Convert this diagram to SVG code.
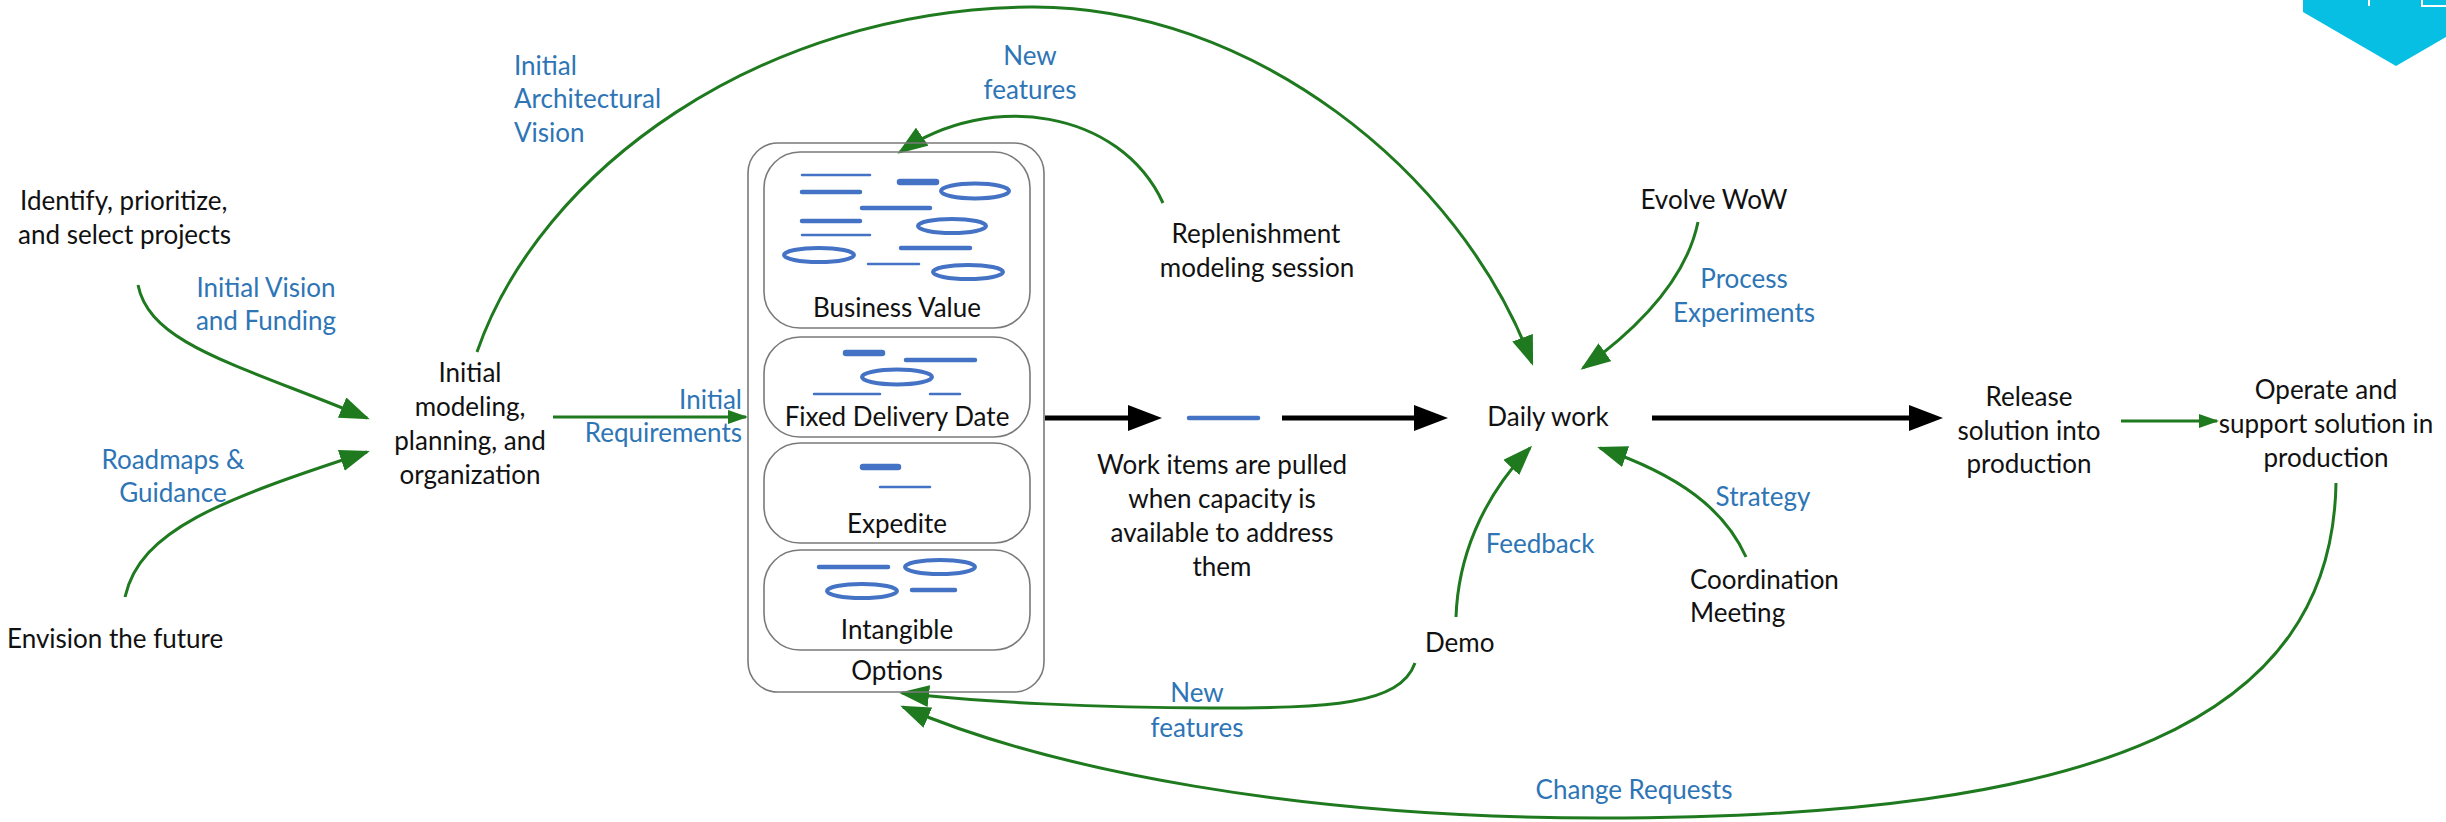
<svg xmlns="http://www.w3.org/2000/svg" width="2446" height="822" viewBox="0 0 2446 822">
<style>
text{font-family:Lato,"Liberation Sans",sans-serif;font-size:26px}
.t{fill:#111}
.b{fill:#2E75B6}
.m{text-anchor:middle}
.e{text-anchor:end}
.g{fill:none;stroke:#1f7a1f;stroke-width:3}
.k{fill:none;stroke:#000;stroke-width:5}
.box{fill:none;stroke:#7a7a7a;stroke-width:1.6}
.ic{fill:none;stroke:#4472C4;stroke-linecap:round}
.w1{stroke-width:2.5}
.w2{stroke-width:4.5}
.w3{stroke-width:6.5}
.el{stroke-width:4}
</style>
<defs>
<marker id="ag" markerUnits="userSpaceOnUse" markerWidth="30" markerHeight="22" refX="27" refY="11" orient="auto"><path d="M0,0 L30,11 L0,22 z" fill="#1f7a1f"/></marker>
<marker id="as" markerUnits="userSpaceOnUse" markerWidth="20" markerHeight="14" refX="18" refY="7" orient="auto"><path d="M0,0 L20,7 L0,14 z" fill="#1f7a1f"/></marker>
<marker id="ak" markerUnits="userSpaceOnUse" markerWidth="34" markerHeight="26" refX="26" refY="13" orient="auto"><path d="M0,0 L34,13 L0,26 z" fill="#000"/></marker>
</defs>
<rect width="2446" height="822" fill="#fff"/>

<g id="connectors">
<path class="g" d="M138,285 C150,345 240,365 367,418" marker-end="url(#ag)"/>
<path class="g" d="M125,597 C140,530 220,500 367,452" marker-end="url(#ag)"/>
<path class="g" d="M553,417 L746,417" marker-end="url(#as)"/>
<path class="g" d="M477,352 C540,170 760,10 1030,7 C1250,5 1460,170 1532,363" marker-end="url(#ag)"/>
<path class="g" d="M1163,203 C1120,110 990,90 900,152" marker-end="url(#ag)"/>
<path class="g" d="M1698,222 C1688,270 1650,320 1583,368" marker-end="url(#ag)"/>
<path class="g" d="M1746,557 C1725,510 1680,475 1600,448" marker-end="url(#ag)"/>
<path class="g" d="M1456,617 C1458,560 1480,500 1530,448" marker-end="url(#ag)"/>
<path class="g" d="M1415,663 C1400,705 1330,708 1210,708 C1100,708 980,702 902,693" marker-end="url(#ag)"/>
<path class="g" d="M2121,421 L2217,421" marker-end="url(#as)"/>
<path class="g" d="M2336,483 C2332,720 2100,818 1600,818 C1300,818 1050,770 903,707" marker-end="url(#ag)"/>
<path class="k" d="M1045,418 L1154,418" marker-end="url(#ak)"/>
<line class="ic w2" x1="1189" y1="418" x2="1258" y2="418"/>
<path class="k" d="M1282,418 L1440,418" marker-end="url(#ak)"/>
<path class="k" d="M1652,418 L1935,418" marker-end="url(#ak)"/>
</g>

<g id="edge-labels">
<text class="b" x="514" y="75">Initial</text>
<text class="b" x="514" y="108">Architectural</text>
<text class="b" x="514" y="142">Vision</text>
<text class="b m" x="1030" y="65">New</text>
<text class="b m" x="1030" y="99">features</text>
<text class="b m" x="266" y="297">Initial Vision</text>
<text class="b m" x="266" y="330">and Funding</text>
<text class="b m" x="173" y="469">Roadmaps &amp;</text>
<text class="b m" x="173" y="502">Guidance</text>
<text class="b e" x="742" y="409">Initial</text>
<text class="b e" x="742" y="442">Requirements</text>
<text class="b m" x="1744" y="288">Process</text>
<text class="b m" x="1744" y="322">Experiments</text>
<text class="b m" x="1763" y="506">Strategy</text>
<text class="b m" x="1540" y="553">Feedback</text>
<text class="b m" x="1197" y="702">New</text>
<text class="b m" x="1197" y="737">features</text>
<text class="b m" x="1634" y="799">Change Requests</text>
</g>

<g id="n-identify"><text class="t" x="20" y="210">Identify, prioritize,</text><text class="t" x="18" y="244">and select projects</text></g>
<g id="n-envision"><text class="t" x="7" y="648">Envision the future</text></g>
<g id="n-initial-modeling">
<text class="t m" x="470" y="382">Initial</text>
<text class="t m" x="470" y="416">modeling,</text>
<text class="t m" x="470" y="450">planning, and</text>
<text class="t m" x="470" y="484">organization</text>
</g>

<g id="n-options">
<rect class="box" x="748" y="143" width="296" height="549" rx="30"/>
<g id="n-business-value">
<rect class="box" x="764" y="152" width="266" height="176" rx="36"/>
<line class="ic w1" x1="802" y1="175" x2="870" y2="175"/>
<line class="ic w2" x1="802" y1="192" x2="860" y2="192"/>
<line class="ic w3" x1="900" y1="182" x2="936" y2="182"/>
<ellipse class="ic el" cx="975" cy="191" rx="34" ry="7.5"/>
<line class="ic w2" x1="862" y1="208" x2="930" y2="208"/>
<line class="ic w2" x1="802" y1="221" x2="860" y2="221"/>
<ellipse class="ic el" cx="952" cy="226" rx="34" ry="7"/>
<line class="ic w1" x1="802" y1="235" x2="870" y2="235"/>
<line class="ic w2" x1="901" y1="248" x2="970" y2="248"/>
<ellipse class="ic el" cx="819" cy="255" rx="35" ry="7"/>
<line class="ic w1" x1="868" y1="264" x2="919" y2="264"/>
<ellipse class="ic el" cx="968" cy="272" rx="35" ry="7"/>
<text class="t m" x="897" y="317">Business Value</text>
</g>
<g id="n-fixed-delivery-date">
<rect class="box" x="764" y="337" width="266" height="100" rx="36"/>
<line class="ic w3" x1="846" y1="353" x2="882" y2="353"/>
<line class="ic w2" x1="906" y1="360" x2="975" y2="360"/>
<ellipse class="ic el" cx="897" cy="377" rx="35" ry="7.5"/>
<line class="ic w1" x1="814" y1="394" x2="880" y2="394"/>
<line class="ic w1" x1="930" y1="394" x2="960" y2="394"/>
<text class="t m" x="897" y="426">Fixed Delivery Date</text>
</g>
<g id="n-expedite">
<rect class="box" x="764" y="443" width="266" height="100" rx="36"/>
<line class="ic w3" x1="863" y1="467" x2="898" y2="467"/>
<line class="ic w1" x1="880" y1="487" x2="930" y2="487"/>
<text class="t m" x="897" y="533">Expedite</text>
</g>
<g id="n-intangible">
<rect class="box" x="764" y="550" width="266" height="100" rx="36"/>
<line class="ic w2" x1="819" y1="567" x2="888" y2="567"/>
<ellipse class="ic el" cx="940" cy="567" rx="35" ry="7"/>
<ellipse class="ic el" cx="862" cy="591" rx="35" ry="7"/>
<line class="ic w2" x1="912" y1="590" x2="955" y2="590"/>
<text class="t m" x="897" y="639">Intangible</text>
</g>
<text class="t m" x="897" y="680">Options</text>
</g>

<g id="n-replenishment"><text class="t m" x="1256" y="243">Replenishment</text><text class="t m" x="1257" y="277">modeling session</text></g>
<g id="n-work-items">
<text class="t m" x="1222" y="474">Work items are pulled</text>
<text class="t m" x="1222" y="508">when capacity is</text>
<text class="t m" x="1222" y="542">available to address</text>
<text class="t m" x="1222" y="576">them</text>
</g>
<g id="n-daily-work"><text class="t m" x="1548" y="426">Daily work</text></g>
<g id="n-evolve"><text class="t m" x="1714" y="209">Evolve WoW</text></g>
<g id="n-release"><text class="t m" x="2029" y="406">Release</text><text class="t m" x="2029" y="440">solution into</text><text class="t m" x="2029" y="473">production</text></g>
<g id="n-operate"><text class="t m" x="2326" y="399">Operate and</text><text class="t m" x="2326" y="433">support solution in</text><text class="t m" x="2326" y="467">production</text></g>
<g id="n-coordination"><text class="t" x="1690" y="589">Coordination</text><text class="t" x="1690" y="622">Meeting</text></g>
<g id="n-demo"><text class="t" x="1425" y="652">Demo</text></g>
<g id="n-logo">
<polygon points="2303,0 2446,0 2446,37 2396,66 2303,12" fill="#06BFE2"/>
<path d="M2369,0 V6 M2422,0 V6 H2446" fill="none" stroke="#fff" stroke-width="2"/>
</g>
</svg>
